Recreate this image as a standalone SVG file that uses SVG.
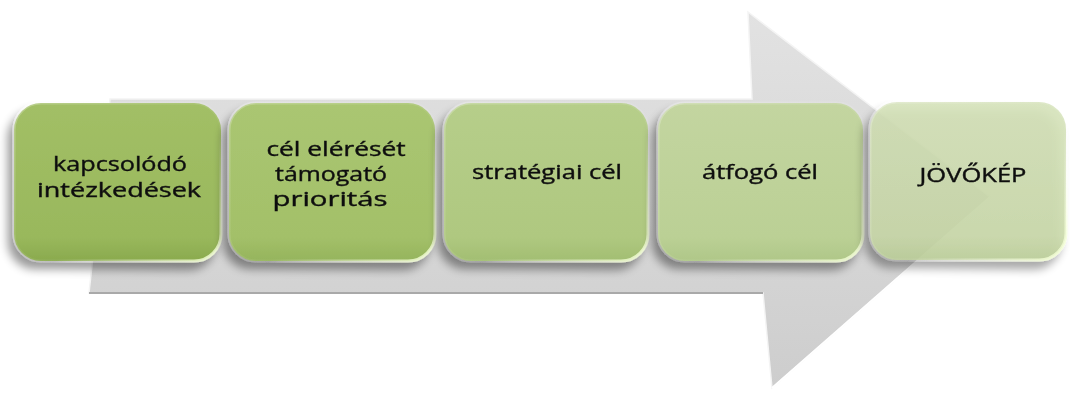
<svg xmlns="http://www.w3.org/2000/svg" width="1070" height="396" viewBox="0 0 1070 396">
<defs>
<linearGradient id="arrowG" x1="0" y1="0" x2="0" y2="1">
<stop offset="0" stop-color="#e2e2e2"/>
<stop offset="0.5" stop-color="#d8d8d8"/>
<stop offset="1" stop-color="#cdcdcd"/>
</linearGradient>
<linearGradient id="g1" x1="0" y1="0" x2="0" y2="1">
<stop offset="0" stop-color="#a2bf66"/><stop offset="0.85" stop-color="#99b85c"/><stop offset="1" stop-color="#8aaa4e"/>
</linearGradient>
<linearGradient id="g2" x1="0" y1="0" x2="0" y2="1">
<stop offset="0" stop-color="#aac672"/><stop offset="0.85" stop-color="#a3c069"/><stop offset="1" stop-color="#95b45c"/>
</linearGradient>
<linearGradient id="g3" x1="0" y1="0" x2="0" y2="1">
<stop offset="0" stop-color="#b6ce8a"/><stop offset="0.85" stop-color="#afc880"/><stop offset="1" stop-color="#a2be72"/>
</linearGradient>
<linearGradient id="g4" x1="0" y1="0" x2="0" y2="1">
<stop offset="0" stop-color="#c3d5a0"/><stop offset="0.85" stop-color="#bbd095"/><stop offset="1" stop-color="#afc788"/>
</linearGradient>
<linearGradient id="g5" x1="0" y1="0" x2="0" y2="1">
<stop offset="0" stop-color="#d3e1b6"/><stop offset="0.85" stop-color="#c9d9a8"/><stop offset="1" stop-color="#bccf98"/>
</linearGradient>
<linearGradient id="hl" x1="0" y1="0" x2="1" y2="1">
<stop offset="0" stop-color="#ffffff" stop-opacity="0.25"/>
<stop offset="0.6" stop-color="#ffffff" stop-opacity="0.05"/>
<stop offset="1" stop-color="#f2ffd0" stop-opacity="0.9"/>
</linearGradient>
<filter id="sh" x="-20%" y="-20%" width="140%" height="150%">
<feGaussianBlur in="SourceAlpha" stdDeviation="5"/>
<feOffset dx="-6" dy="8" result="b"/>
<feComponentTransfer><feFuncA type="linear" slope="0.4"/></feComponentTransfer>
<feMerge><feMergeNode/><feMergeNode in="SourceGraphic"/></feMerge>
</filter>
</defs>
<style>
.box{stroke:url(#hl);stroke-width:3}
.t{font-family:"Open Sans","Liberation Sans",sans-serif;font-size:20px;fill:#111111;stroke:#111111;stroke-width:0.4;text-anchor:middle}
</style>
<g id="arrow">
<polygon points="110,99 752,99 748,12 990,197 772,388 763,293 89,293" fill="url(#arrowG)" stroke="#f4f4f4" stroke-width="1.5"/>
<line x1="89" y1="293" x2="763" y2="293" stroke="#a9a9a9" stroke-width="2"/>
<line x1="990" y1="197" x2="772" y2="388" stroke="#ffffff" stroke-width="2"/>
</g>
<g id="n1" filter="url(#sh)">
<rect class="box" x="14" y="103" width="207" height="158" rx="27" fill="url(#g1)"/>
<text class="t" x="120" y="171" textLength="134" lengthAdjust="spacingAndGlyphs">kapcsolódó</text>
<text class="t" x="119" y="197" textLength="164" lengthAdjust="spacingAndGlyphs">intézkedések</text>
</g>
<g id="n2" filter="url(#sh)">
<rect class="box" x="229" y="103" width="206" height="158" rx="27" fill="url(#g2)"/>
<text class="t" x="336" y="156" textLength="139" lengthAdjust="spacingAndGlyphs">cél elérését</text>
<text class="t" x="331" y="181" textLength="112" lengthAdjust="spacingAndGlyphs">támogató</text>
<text class="t" x="330" y="206" textLength="115" lengthAdjust="spacingAndGlyphs">prioritás</text>
</g>
<g id="n3" filter="url(#sh)">
<rect class="box" x="444" y="103" width="204" height="158" rx="27" fill="url(#g3)"/>
<text class="t" x="547" y="179" textLength="150" lengthAdjust="spacingAndGlyphs">stratégiai cél</text>
</g>
<g id="n4" filter="url(#sh)">
<rect class="box" x="658" y="103" width="205" height="158" rx="27" fill="url(#g4)"/>
<text class="t" x="760" y="179" textLength="116" lengthAdjust="spacingAndGlyphs">átfogó cél</text>
</g>
<g id="n5" filter="url(#sh)">
<rect class="box" x="870" y="102" width="196" height="158" rx="27" fill="url(#g5)" fill-opacity="0.85"/>
<text class="t" x="973" y="182" textLength="107" lengthAdjust="spacingAndGlyphs">JÖVŐKÉP</text>
</g>
<g id="connectors"/>
</svg>
